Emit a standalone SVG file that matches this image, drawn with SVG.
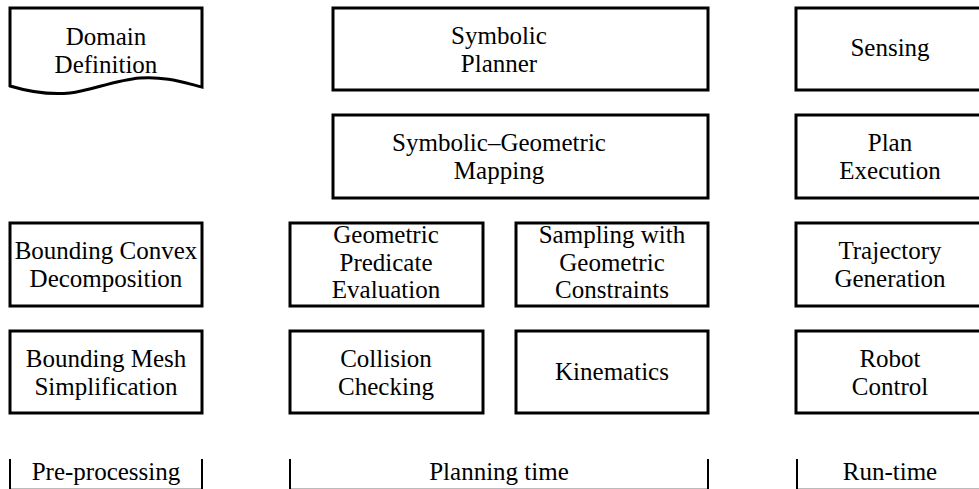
<svg xmlns="http://www.w3.org/2000/svg" width="979" height="489" viewBox="0 0 979 489">
<style>
.box{fill:#fff;stroke:#000;stroke-width:3}
.bar{stroke:#000;stroke-width:2}
.base{stroke:#bbb;stroke-width:1}
</style>
<rect width="979" height="489" fill="#fff"/>
<g id="connectors"></g>
<g font-family="Liberation Serif" font-size="25" text-anchor="middle" fill="#000">
<g id="domain-definition">
<path class="box" d="M10,86 V8 H202 V87 C185,83 165,76 140,78 S90,91 70,93 S30,92 10,86 Z"/>
<text font-family="Liberation Serif" x="106" y="45">Domain</text>
<text font-family="Liberation Serif" x="106" y="73">Definition</text>
</g>
<g id="symbolic-planner">
<rect class="box" x="333" y="8" width="375" height="82"/>
<text font-family="Liberation Serif" x="499" y="44">Symbolic</text>
<text font-family="Liberation Serif" x="499" y="72">Planner</text>
</g>
<g id="sensing">
<rect class="box" x="796" y="8" width="192" height="82"/>
<text font-family="Liberation Serif" x="890" y="56">Sensing</text>
</g>
<g id="symbolic-geometric-mapping">
<rect class="box" x="333" y="115" width="375" height="83"/>
<text font-family="Liberation Serif" x="499" y="151">Symbolic&#8211;Geometric</text>
<text font-family="Liberation Serif" x="499" y="179">Mapping</text>
</g>
<g id="plan-execution">
<rect class="box" x="796" y="115" width="192" height="83"/>
<text font-family="Liberation Serif" x="890" y="151">Plan</text>
<text font-family="Liberation Serif" x="890" y="179">Execution</text>
</g>
<g id="bounding-convex-decomposition">
<rect class="box" x="10" y="223" width="192" height="83"/>
<text font-family="Liberation Serif" x="106" y="259">Bounding Convex</text>
<text font-family="Liberation Serif" x="106" y="287">Decomposition</text>
</g>
<g id="geometric-predicate-evaluation">
<rect class="box" x="290" y="223" width="193" height="83"/>
<text font-family="Liberation Serif" x="386" y="243">Geometric</text>
<text font-family="Liberation Serif" x="386" y="271">Predicate</text>
<text font-family="Liberation Serif" x="386" y="298">Evaluation</text>
</g>
<g id="sampling-geometric-constraints">
<rect class="box" x="516" y="223" width="192" height="83"/>
<text font-family="Liberation Serif" x="612" y="243">Sampling with</text>
<text font-family="Liberation Serif" x="612" y="271">Geometric</text>
<text font-family="Liberation Serif" x="612" y="298">Constraints</text>
</g>
<g id="trajectory-generation">
<rect class="box" x="796" y="223" width="192" height="83"/>
<text font-family="Liberation Serif" x="890" y="259">Trajectory</text>
<text font-family="Liberation Serif" x="890" y="287">Generation</text>
</g>
<g id="bounding-mesh-simplification">
<rect class="box" x="10" y="331" width="192" height="82"/>
<text font-family="Liberation Serif" x="106" y="367">Bounding Mesh</text>
<text font-family="Liberation Serif" x="106" y="395">Simplification</text>
</g>
<g id="collision-checking">
<rect class="box" x="290" y="331" width="193" height="82"/>
<text font-family="Liberation Serif" x="386" y="367">Collision</text>
<text font-family="Liberation Serif" x="386" y="395">Checking</text>
</g>
<g id="kinematics">
<rect class="box" x="516" y="331" width="192" height="82"/>
<text font-family="Liberation Serif" x="612" y="380">Kinematics</text>
</g>
<g id="robot-control">
<rect class="box" x="796" y="331" width="192" height="82"/>
<text font-family="Liberation Serif" x="890" y="367">Robot</text>
<text font-family="Liberation Serif" x="890" y="395">Control</text>
</g>
<g id="phases">
<line class="base" x1="10" y1="488.5" x2="202" y2="488.5"/>
<line class="base" x1="290" y1="488.5" x2="708" y2="488.5"/>
<line class="base" x1="797" y1="488.5" x2="979" y2="488.5"/>
<line class="bar" x1="10" y1="459" x2="10" y2="489"/>
<line class="bar" x1="202" y1="459" x2="202" y2="489"/>
<line class="bar" x1="290" y1="459" x2="290" y2="489"/>
<line class="bar" x1="708" y1="459" x2="708" y2="489"/>
<line class="bar" x1="797" y1="459" x2="797" y2="489"/>
<text font-family="Liberation Serif" x="106" y="480">Pre-processing</text>
<text font-family="Liberation Serif" x="499" y="480">Planning time</text>
<text font-family="Liberation Serif" x="890" y="480">Run-time</text>
</g>
</g>
</svg>
